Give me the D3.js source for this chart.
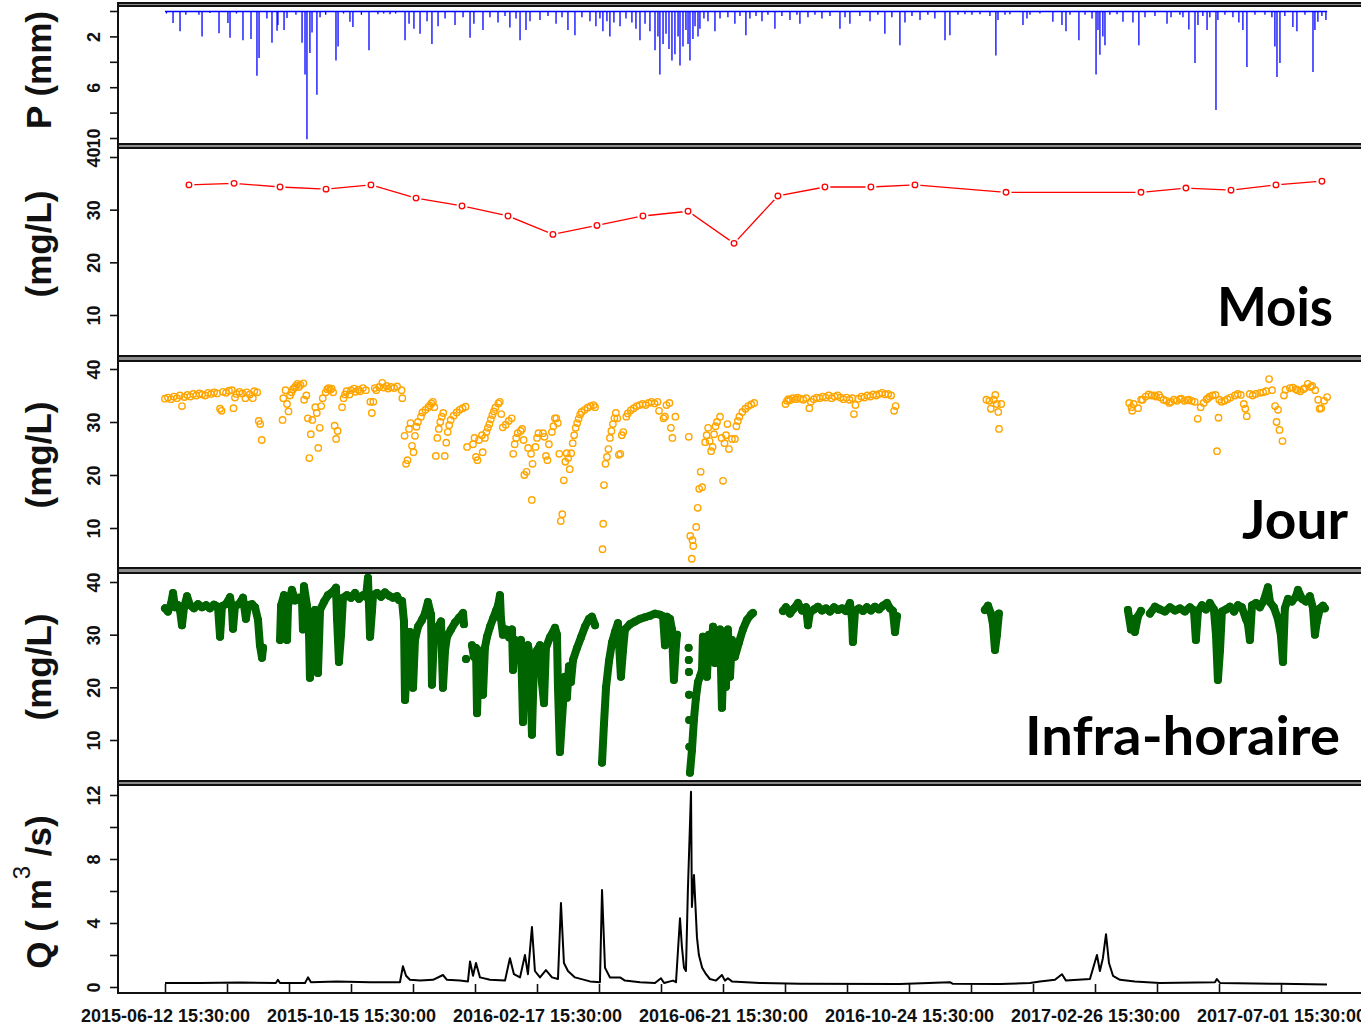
<!DOCTYPE html>
<html><head><meta charset="utf-8">
<script src="https://cdn.jsdelivr.net/npm/d3@7"></script>
<style>body{margin:0;background:#fff}svg{display:block}</style>
</head><body><svg id="c" width="1361" height="1025"></svg>
<script>
// ---------- DATA (time = days after 2015-06-12 15:30:00) ----------
const xTickLabels = ["2015-06-12 15:30:00","2015-10-15 15:30:00","2016-02-17 15:30:00","2016-06-21 15:30:00","2016-10-24 15:30:00","2017-02-26 15:30:00","2017-07-01 15:30:00"];
const pTicks = [0,2,4,6,8,10];
const pTickLabels = ["","2","","6","","10"];
const cTicks = [10,20,30,40];
const cTickLabels = ["10","20","30","40"];
const qTicks = [0,2,4,6,8,10,12];
const qTickLabels = ["0","","4","","8","","12"];
const panelNames = ["Mois","Jour","Infra-horaire"];

const precipitation = [
[1,0.2],[5.4,0.95],[10.1,1.6],[14,0.3],[22.8,0.3],[24.9,2.0],[30.2,0.15],[36.3,1.75],[42.3,0.95],[43.7,2.1],[48,0.2],[52.4,2.3],[57.8,2.2],[61.8,5.1],[63.2,3.7],[68.5,0.6],[71.9,2.5],[75.3,1.55],[75.9,1.1],[80,1.5],[82,0.55],[88,0.3],[92.1,2.5],[94.1,5.0],[95.4,10.1],[97.4,3.3],[98.8,1.7],[102.1,6.6],[104.2,0.5],[108,0.3],[114.9,3.9],[116.3,2.8],[120,0.2],[124.3,0.85],[126.3,1.25],[132,0.3],[137.1,3.1],[143.1,0.25],[147,0.2],[151.2,0.25],[155,0.2],
[161.3,2.3],[164,1.0],[167.3,1.4],[171.4,1.8],[176.1,0.8],[179.4,2.6],[183.5,1.2],[188.2,0.6],[194.9,1.1],[200.3,0.5],[205,2.1],[207.6,1.0],[213.7,1.5],[218.4,0.5],[223.8,0.9],[228.5,0.4],[231.8,1.3],[235.9,0.6],[238.6,2.3],[242.6,1.5],[245.3,0.8],[252,0.7],[257.4,0.4],[262.8,1.0],[266.8,0.5],[270.8,1.5],[275.5,1.9],[280.2,0.5],[285.6,0.8],[289.6,1.2],[292.3,0.6],[294.3,1.6],[297,0.8],[299,2.0],[301.7,0.9],[305.8,1.2],[309.8,0.6],[313.8,0.9],[316.5,1.4],[319.2,2.3],[322.6,1.0],[325.9,1.6],[329.3,3.1],[331.3,2.0],[332.6,5.0],[334.7,2.6],[336.7,1.8],[338.7,3.0],[340.7,3.9],[342.7,3.4],[344.8,2.0],[346.1,4.3],[348.1,2.8],[350.1,1.5],[351.5,2.6],[352.8,3.9],[354.8,2.2],[356.2,1.2],[358.2,2.0],[359.5,1.4],[362.2,0.6],[364.9,0.8],[369.6,1.6],[373,0.6],[378.3,0.5],[383,1.0],[386.4,0.4],[390.4,1.9],[393.1,0.6],[397.2,0.4],[401.2,0.8],[405.2,0.3],[409.9,1.4],[414.6,0.4],[420,0.7],[424.7,0.3],[426.7,1.0],[432.1,0.5],[436.8,0.3],[441.5,0.6],[446.9,0.4],[453.6,1.4],[457,0.5],[460.3,1.0],[467,0.4],[473.8,0.8],[479.1,0.3],[483.8,1.8],[488.5,0.5],[493.9,2.7],[497.3,0.9],[502,0.4],[507.4,0.7],[512.7,0.3],[517.4,0.6],[524.2,2.3],[527.5,1.9],[532.9,0.3],[537.6,0.25],[542.3,0.3],[547.7,0.25],[554.4,0.4],[558.4,3.5],[559.8,0.7],[564.5,0.3],[567.8,0.25],[576.6,1.1],[579.3,0.6],[581.3,0.3],[588,0.2],[596.7,0.85],[602.8,1.1],[605.5,1.6],[608.2,0.3],[614.2,2.3],[618.3,0.3],[623,0.6],[625.7,5.0],[627,1.5],[628.3,3.45],[630.3,2.0],[631.7,2.7],[635,0.3],[639.8,0.25],[643.8,0.85],[650.5,0.9],[654.5,2.7],[658.6,0.5],[665.3,0.4],[673.4,1.0],[676.1,0.5],[682.1,0.3],[684.1,0.5],[688.1,1.45],[692.2,4.1],[694.2,1.1],[697.5,0.4],[700.3,1.5],[702.2,0.5],[706.3,7.8],[707.6,0.7],[712.3,0.3],[717.7,0.5],[721.7,0.9],[724.4,1.5],[727.1,4.4],[732.5,0.3],[739.2,0.3],[743.9,0.5],[745.9,2.8],[747.3,5.2],[749.3,4.1],[752.6,0.4],[758,1.25],[760.7,1.6],[766.1,0.3],[771.5,4.8],[772.8,1.5],[774.8,0.85],[777.5,0.4],[780.2,0.7]
];

const mois = [
[16.1,34.7],[46.4,35.0],[77.3,34.3],[108.2,33.9],[138.4,34.7],[168.7,32.2],[199.6,30.7],[230.5,28.8],[260.7,25.3],[290.3,27.0],[321.2,28.8],[351.5,29.7],[382.4,23.6],[411.9,32.6],[443.5,34.3],[474.4,34.3],[504,34.7],[565.2,33.3],[655.9,33.3],[686.1,34.1],[716.4,33.7],[746.6,34.7],[777.5,35.4]
];

const jour = [
[0,34.4],[2,34.6],[4,34.3],[6,34.8],[8,34.5],[10,35.0],[11.4,33.0],[13,34.7],[15,35.1],[17,34.8],[19,35.3],[21,35.0],[23,35.4],[25,35.2],[27,35.0],[29,35.5],[31,35.3],[33,35.6],[35,35.4],[37,32.5],[38,32.1],[39,35.7],[41,35.5],[43,35.9],[45,36.0],[46,32.6],[47,34.6],[48,35.3],[50,35.7],[52,35.4],[54,34.5],[55,35.6],[57,35.2],[59,34.5],[60,35.8],[62,35.6],[63,30.2],[64,29.6],[65,26.6],
[79,30.4],[79.5,34.5],[81,36.0],[82,33.4],[83,32.0],[84,35.0],[85,35.6],[86,36.2],[87,36.5],[88,36.8],[89,37.2],[90,36.6],[91,37.0],[93,37.3],[93.5,34.2],[95,35.0],[96,30.7],[97,23.2],[98,27.7],[99,30.4],[101,32.8],[102,31.7],[103,25.1],[104,28.9],[105,33.0],[106,34.5],[108,35.6],[109,36.2],[110,36.4],[111,36.1],[112,36.3],[113,35.6],[114,29.3],[115,26.8],[116,28.3],[119,32.8],[120,34.5],[121,35.2],[122,35.8],[124,35.2],[125,36.0],[127,36.3],[128,35.7],[130,36.1],[131,35.8],[133,36.4],[135,36.0],[138,33.8],[139,31.7],[140,33.8],[141,36.4],[142,36.0],[144,36.6],[146,37.4],[147,36.5],[149,36.8],[150,36.3],[152,36.6],[154,36.4],[156,36.7],[159,36.0],[159.5,34.5],
[161,27.4],[162,22.1],[163,22.8],[164,28.7],[165,29.8],[166,25.5],[167,24.3],[168,27.4],[169,29.1],[170,30.0],[172,31.0],[173,31.8],[175,32.3],[177,32.8],[178,33.1],[179,33.5],[180,33.8],[181,32.8],[182,23.6],[183,27.0],[184,28.7],[185,30.0],[186,31.0],[187,31.7],[188,23.6],[189,26.1],[190,28.1],[191,29.4],[192,30.4],[194,31.2],[196,31.8],[198,32.3],[200,32.6],[202,32.9],[203,25.3],[207,25.8],[208,27.0],[209,23.4],[210,22.8],[211,26.6],[213,27.5],[213.5,24.3],[215,27.0],[216,28.1],[217,28.9],[218,29.6],[219,30.5],[220,31.3],[221,32.0],[222,32.7],[224,33.5],[225,33.8],[226,31.5],[227,29.0],[229,29.5],[231,30.2],[233,30.7],[234,24.0],[235,25.8],[236,27.0],[237,27.9],[239,28.3],[240,28.7],[241,26.6],[241.5,20.0],[243,20.6],[244,25.1],[246,24.0],[246.5,15.3],[247,22.1],[249,25.3],[250,27.0],[251,27.9],[254,27.9],[255,27.2],[256,23.6],[257,22.8],[258,25.8],[260,28.1],[261,29.2],[262,30.7],[263,30.7],[264,29.8],[265,24.0],[266,11.3],[267,12.6],[268,19.0],[269,22.5],[270,24.1],[271,23.2],[272,21.1],[273,24.1],[274,26.0],[275,27.5],[276,28.9],[277,29.8],[278,30.6],[279,31.4],[280,31.9],[282,32.3],[284,32.7],[286,33.0],[288,33.2],[289,32.8],
[294,6.0],[294.5,10.8],[295,18.1],[296,22.1],[297,23.4],[298,24.9],[299,27.0],[300,28.3],[301,29.6],[302,30.7],[303,31.7],[304,30.7],[305,23.8],[306,24.0],[307,27.5],[308,28.1],[310,31.0],[311,31.6],[313,32.2],[315,32.6],[317,33.0],[319,33.2],[321,33.4],[323,33.2],[325,33.6],[327,33.8],[329,33.5],[331,33.8],[332,32.1],[335,30.7],[336,31.0],[337,33.2],[339,33.6],[340,28.9],[341,27.0],[343,31.0],
[352,27.2],[353,8.5],[354,4.2],[354.5,7.7],[355,6.6],[357,10.2],[358,13.8],[359,17.4],[360,20.6],[361,17.7],[363,26.2],[364,27.5],[365,28.9],[366,26.4],[367,24.5],[368,25.3],[369,27.7],[370,29.2],[371,30.0],[373,31.0],[374,27.0],[375,18.9],[376,26.0],[377,27.5],[378,29.6],[379,24.9],[381,26.8],[383,26.8],[384,29.2],[385,30.2],[386,31.0],[388,31.9],[390,32.5],[392,33.0],[394,33.3],[396,33.6],
[417,33.4],[418,34.0],[419,34.3],[420,34.1],[422,34.5],[424,34.3],[425,34.6],[427,34.4],[429,34.2],[431,34.5],[433,32.6],[434,33.8],[436,34.3],[438,34.6],[440,34.5],[442,34.8],[444,34.6],[446,35.0],[448,34.5],[450,34.8],[452,35.0],[454,34.6],[456,34.3],[458,34.6],[460,34.2],[462,34.5],[463,31.5],[464,33.2],[466,34.4],[468,34.8],[470,34.6],[472,35.0],[474,34.8],[476,35.2],[478,35.0],[480,35.3],[482,35.5],[484,35.2],[486,35.3],[488,35.0],[490,32.1],[491,33.0],
[552,34.2],[554,34.0],[555,32.5],[557,34.2],[558,35.1],[559,33.4],[560,31.9],[560.5,28.7],[562,33.4],
[648,33.6],[649.5,32.8],[650,32.1],[651,33.4],[654,32.6],[656,34.2],[657,34.2],[659,34.8],[661,35.2],[663,35.0],[665,35.0],[666,34.8],[668,35.1],[669,34.6],[671,34.2],[673,34.0],[675,33.6],[676,33.8],[678,34.2],[680,34.0],[682,34.3],[683,34.4],[685,34.0],[687,34.1],[688,34.2],[690,34.0],[692,33.8],[694,30.6],[696,32.8],[698,33.6],[700,34.3],[701,34.5],[702,34.8],[704,35.0],[706,35.1],[707,24.5],[708,30.8],[708.5,34.2],[710,33.8],[712,34.0],[714,34.3],[716,34.6],[719,35.0],[721,35.3],[723,35.1],[725,33.4],[726,32.5],[727,31.1],[729,35.3],[731,35.0],[733,35.3],[736,35.5],[738,35.6],[740,35.8],[742,38.1],[744,36.0],[746,33.0],[747,30.0],[748,32.3],[749,28.5],[751,26.4],[752,35.0],[753,36.1],[756,36.4],[758,36.5],[760,36.2],[761,36.0],[763,35.8],[765,36.2],[766,36.4],[768,37.2],[770,36.6],[771,36.8],[773,36.0],[775,34.2],[776,32.5],[777,32.6],[779,34.0],[781,34.7]
];

// null = gap in the record
const infraHoraire = [
[0,35.0],[2,34.4],[4,35.8],[5.4,37.9],[6.7,35.2],[8.7,35.6],[10.1,34.6],[11.4,31.8],[12.8,35.2],[14.8,37.3],[16.8,35.6],[19.5,35.0],[22.2,35.8],[24.9,35.2],[27.6,35.6],[30.2,35.0],[32.9,35.7],[35.6,35.3],[37,29.6],[38.3,35.4],[41,35.8],[43.7,37.1],[45,35.0],[45.7,31.1],[47,35.4],[49.7,35.8],[52.4,37.0],[54.4,33.0],[55.8,35.6],[58.5,35.8],[60.5,35.2],[62.5,32.8],[63.8,28.0],[65.2,25.6],[65.9,27.5],
null,
[77.3,29.0],[78,35.5],[80,37.5],[82,29.0],[82.7,35.5],[85.3,38.5],[87.4,36.5],[90,37.0],[92.1,36.2],[92.7,31.0],[93.4,39.2],[95.4,35.5],[96.8,30.0],[97.4,21.8],[98.8,30.5],[100.8,34.7],[102.1,28.0],[102.8,22.7],[104.2,34.7],[106.8,36.2],[109.5,37.5],[112.2,38.0],[114.9,38.9],[115.6,33.0],[116.9,24.8],[118.3,30.0],[119.6,37.0],[122.3,37.5],[125,37.0],[127.7,37.9],[130.4,36.8],[133.1,37.5],[135.1,37.2],[136.4,40.8],[137.1,35.5],[137.8,29.6],[139.1,34.5],[139.8,37.5],[142.5,37.9],[145.2,37.2],[147.8,38.0],[150.5,37.4],[153.2,37.0],[155.9,37.3],[157.2,36.6],
[159.3,36.4],[160.6,32.5],[161.3,17.6],[162.6,24.0],[164,28.0],[164.6,30.5],[166,30.0],[166.7,19.9],[168,29.0],[170,31.5],[172.7,32.8],[174.7,34.0],[176.7,36.2],[178.1,34.5],[178.8,33.8],[179.4,20.5],[180.8,30.0],[182.1,29.5],[183.5,31.5],[185.5,32.5],[186.1,26.5],[186.8,19.9],[188.2,27.0],[189.5,29.6],[192.2,31.0],[194.9,32.3],[197.6,33.2],[200.3,34.1],[200.9,32.0],
null,[202.3,25.4],null,
[206.3,28.0],[207.6,25.8],[209,27.5],[209.7,15.1],[211,27.0],[212.4,26.5],[213.7,18.6],[215,27.5],[216.4,29.6],[218.4,31.5],[220.4,33.0],[222.4,34.5],[223.8,35.5],[225.1,37.5],[225.8,33.0],[227.1,30.0],[229.2,31.0],[231.2,29.5],[233.2,31.0],[233.9,23.3],[235.2,29.0],[237.2,28.0],[239.2,29.0],[240.6,13.4],[241.9,27.0],[243.9,28.0],[245.3,26.0],[246.6,11.0],[248,25.0],[250,27.0],[252,28.0],[253.3,21.0],[254.7,17.0],[256,27.5],[258.7,29.5],[262.1,31.3],[263.4,30.0],[264.1,20.0],[265.4,7.7],[267.5,17.0],[268.8,22.0],[270.1,18.0],[271.5,24.0],[272.8,21.0],[274.2,25.2],[276.9,27.5],[279.6,29.5],[282.2,31.5],[284.9,33.0],[286.9,33.4],[289,31.8],
null,
[293.7,5.7],[295,13.0],[296.4,20.0],[298.4,25.0],[300.4,28.5],[302.4,30.5],[304.4,32.2],[305.1,28.4],[306.4,22.0],[307.8,27.0],[309.1,31.0],[312.5,32.0],[315.8,32.5],[319.2,33.0],[322.6,33.3],[325.9,33.6],[329.3,34.0],[332.6,33.8],[334.7,33.5],[336,28.0],[337.3,33.4],[339.4,33.0],[340.7,31.0],[342,21.4],[343.4,28.0],[344.1,30.0],
null,[351.9,27.5],null,[352,25.2],null,[352.1,22.9],null,[352.2,18.6],null,[352.3,13.8],null,[352.4,8.7],null,
[352.8,3.8],[354.1,8.0],[355.5,14.0],[356.8,18.0],[358.2,21.0],[359.5,22.0],[360.9,23.3],[361.5,29.6],[362.9,26.0],[364.2,22.0],[365.6,30.0],[366.9,27.0],[368.3,31.5],[369.6,24.6],[370.9,30.0],[372.3,26.0],[373,31.0],[374.3,16.1],[375.6,28.0],[377,20.1],[378.3,31.0],[379.7,22.0],[381,29.0],[383,25.8],[385.7,28.5],[388.4,31.0],[391.1,32.8],[393.8,33.8],[395.1,34.1],
null,
[415.3,34.5],[417.3,35.2],[420,34.0],[422.7,35.0],[425.4,36.0],[428.1,34.6],[430.8,35.2],[432.1,31.8],[433.4,34.2],[436.1,34.8],[438.8,35.3],[441.5,34.6],[444.2,35.0],[446.9,34.4],[449.6,35.2],[452.3,34.7],[455,35.0],[457.6,34.5],[460.3,36.0],[461.7,33.0],[462.3,28.6],[463.7,34.5],[466.4,35.0],[469.1,34.5],[471.7,35.2],[474.4,34.6],[477.1,35.3],[479.8,34.8],[482.5,35.5],[485.2,36.0],[487.2,35.0],[489.2,34.5],[490.6,30.5],[491.9,33.5],
null,
[551,34.7],[553.1,35.5],[555.1,34.0],[556.4,32.0],[557.8,27.1],[559.1,30.0],[560.4,34.0],
null,
[647.1,34.7],[649.2,31.0],[650.5,33.0],[651.8,30.5],[653.9,33.5],[655.9,34.5],
null,
[661.9,34.0],[665.3,35.3],[668.6,34.8],[672,34.4],[675.4,35.2],[678.7,34.6],[682.1,35.0],[685.4,34.4],[688.8,35.2],[691.5,34.6],[692.8,29.0],[694.2,34.5],[696.9,35.6],[699.6,34.8],[702.2,36.0],[704.9,34.8],[706.3,30.0],[707.6,21.4],[709,27.0],[710.3,34.4],[713,34.8],[715.7,35.3],[718.4,34.4],[721.1,35.6],[723.7,35.2],[726.4,33.0],[727.8,32.0],[729.1,29.0],[730.5,35.6],[733.2,36.0],[735.8,35.2],[738.5,36.5],[741.2,39.0],[742.6,36.2],[745.2,35.2],[747.9,33.0],[749.9,30.0],[751.3,24.8],[752.6,35.0],[754.7,36.8],[757.3,36.3],[760,37.2],[761.4,38.5],[764.1,36.8],[766.8,36.3],[769.4,37.3],[771.5,35.0],[772.8,30.0],[774.1,32.5],[776.2,35.0],[778.2,35.5],[779.5,35.0]
];

const discharge = [
[0,0.25],[23.5,0.25],[50.4,0.28],[74.5,0.25],[75.9,0.45],[77.3,0.25],[94.1,0.25],[96.1,0.6],[98.1,0.3],[115.6,0.35],[137.8,0.3],[157.9,0.3],[159.9,1.3],[162,0.7],[164.6,0.45],[171.4,0.4],[180.1,0.45],[186.8,0.75],[189.5,0.45],[198.2,0.4],[203.6,0.35],[205,1.6],[207,0.7],[209,1.5],[211.7,0.6],[218.4,0.45],[228.5,0.4],[231.8,1.8],[234.5,0.8],[238.6,0.6],[241.9,2.0],[243.9,0.8],[246.6,3.75],[248.6,1.0],[252,0.6],[256,1.06],[260.1,0.6],[264.1,0.5],[266.1,5.25],[268.1,1.5],[270.8,1.0],[275.5,0.6],[285.6,0.35],[292.3,0.3],[293.7,6.06],[295.7,1.2],[299,0.6],[305.8,0.6],[309.1,0.4],[319.2,0.3],[329.3,0.25],[333.3,0.55],[335.4,0.25],[341.4,0.4],[343.4,0.3],[346.1,4.3],[347.4,2.5],[348.8,1.2],[350.1,1.0],[351.4,6.06],[353.5,12.2],[354.1,5.0],[355.5,7.0],[357.5,3.1],[358.8,2.0],[361,1.2],[363.6,0.8],[366.2,0.5],[370.3,0.4],[374.3,0.75],[376.3,0.4],[378.3,0.55],[381,0.35],[399.8,0.25],[426.7,0.2],[493.9,0.18],[527.5,0.3],[529.5,0.2],[561.1,0.18],[581.3,0.25],[588,0.35],[598.1,0.45],[602.8,0.8],[605.5,0.4],[621.6,0.5],[626.3,2.0],[628.3,1.0],[630.3,1.8],[632.4,3.3],[634.4,1.5],[637.1,0.7],[641.8,0.45],[651.8,0.35],[668.6,0.25],[705.6,0.3],[706.9,0.5],[709,0.25],[749.3,0.2],[780.9,0.15]
];

// ---------- DRAWING ----------
const svg = d3.select("#c");
svg.append("rect").attr("width",1361).attr("height",1025).attr("fill","#fff");
const parse = d3.utcParse("%Y-%m-%d %H:%M:%S");
const t0 = parse(xTickLabels[0]);
const toDate = d => new Date(t0.getTime() + d*864e5);
const x = d3.scaleUtc().domain([t0, parse(xTickLabels[xTickLabels.length-1])]).range([165,1281]);

const L = 118, R = 1364;
const yP = d3.scaleLinear().domain([0,10]).range([11,138]);
const yMois = d3.scaleLinear().domain([10,40]).range([315,157]);
const yJour = d3.scaleLinear().domain([10,40]).range([528,369]);
const yInfra = d3.scaleLinear().domain([10,40]).range([740,582]);
const yQ = d3.scaleLinear().domain([0,12]).range([987,795]);

const AX = "Liberation Sans, Arial, sans-serif";

// precipitation
const gP = svg.append("g");
gP.append("line").attr("x1",x(toDate(0))).attr("x2",x(toDate(781))).attr("y1",yP(0)+0.5).attr("y2",yP(0)+0.5)
  .attr("stroke","#0000ff").attr("stroke-width",1.6);
gP.selectAll("line.bar").data(precipitation).join("line").attr("class","bar")
  .attr("x1",d=>x(toDate(d[0]))).attr("x2",d=>x(toDate(d[0])))
  .attr("y1",yP(0)).attr("y2",d=>yP(d[1]))
  .attr("stroke","#0000ff").attr("stroke-width",1.3);

// monthly
const lineM = d3.line().x(d=>x(toDate(d[0]))).y(d=>yMois(d[1]));
svg.append("path").attr("d",lineM(mois)).attr("fill","none").attr("stroke","#ff0000").attr("stroke-width",1.3);
svg.selectAll("circle.mw").data(mois).join("circle").attr("class","mw")
  .attr("cx",d=>x(toDate(d[0]))).attr("cy",d=>yMois(d[1])).attr("r",5.5).attr("fill","#fff");
svg.selectAll("circle.m").data(mois).join("circle").attr("class","m")
  .attr("cx",d=>x(toDate(d[0]))).attr("cy",d=>yMois(d[1])).attr("r",2.8)
  .attr("fill","none").attr("stroke","#ff0000").attr("stroke-width",1.3);

// daily
svg.selectAll("circle.j").data(jour).join("circle").attr("class","j")
  .attr("cx",d=>x(toDate(d[0]))).attr("cy",d=>yJour(d[1])).attr("r",3.2)
  .attr("fill","none").attr("stroke","#ffa500").attr("stroke-width",1.4);

// infra-hourly
const lineI = d3.line().defined(d=>d!==null).x(d=>x(toDate(d[0]))).y(d=>yInfra(d[1]));
svg.append("path").attr("d",lineI(infraHoraire)).attr("fill","none").attr("stroke","#006400")
  .attr("stroke-width",8).attr("stroke-linejoin","round").attr("stroke-linecap","round");
svg.selectAll("circle.i").data(infraHoraire.filter(d=>d!==null)).join("circle").attr("class","i")
  .attr("cx",d=>x(toDate(d[0]))).attr("cy",d=>yInfra(d[1])).attr("r",3.2)
  .attr("fill","none").attr("stroke","#006400").attr("stroke-width",1.5);

// discharge
const lineQ = d3.line().x(d=>x(toDate(d[0]))).y(d=>yQ(d[1]));
svg.append("path").attr("d",lineQ(discharge)).attr("fill","none").attr("stroke","#000").attr("stroke-width",2).attr("stroke-linejoin","round");

// frames
const bands = [[3,6],[144,148],[356,361],[568,573],[781,785]];
bands.forEach(b=>{
  svg.append("rect").attr("x",L).attr("y",b[0]).attr("width",R-L).attr("height",b[1]-b[0]).attr("fill","#8c8c8c");
  [b[0],b[1]].forEach(yy=>svg.append("line").attr("x1",L).attr("x2",R).attr("y1",yy).attr("y2",yy).attr("stroke","#111").attr("stroke-width",2));
});
svg.append("line").attr("x1",L).attr("x2",R).attr("y1",993).attr("y2",993).attr("stroke","#111").attr("stroke-width",2);
svg.append("line").attr("x1",L).attr("x2",L).attr("y1",2).attr("y2",994).attr("stroke","#111").attr("stroke-width",2);

// y axes
function yAxis(scale, vals, labels){
  const g = svg.append("g").attr("transform",`translate(${L},0)`)
    .call(d3.axisLeft(scale).tickValues(vals).tickFormat((d,i)=>labels[i]).tickSize(8));
  g.select(".domain").remove();
  g.selectAll(".tick line").attr("stroke","#111").attr("stroke-width",1.6);
  g.selectAll(".tick text").attr("x",null).attr("dy",null).attr("text-anchor","middle")
    .attr("transform","translate(-18,0) rotate(-90)")
    .attr("font-family",AX).attr("font-weight","bold").attr("font-size",18).attr("fill","#111");
}
yAxis(yP,pTicks,pTickLabels);
yAxis(yMois,cTicks,cTickLabels);
yAxis(yJour,cTicks,cTickLabels);
yAxis(yInfra,cTicks,cTickLabels);
yAxis(yQ,qTicks,qTickLabels);

// x axis (ticks every 1000 h, labels every 3000 h)
const xTickDates = d3.range(0,19).map(k=>new Date(t0.getTime()+k*1000*3600e3));
const gx = svg.append("g").attr("transform","translate(0,993)")
  .call(d3.axisBottom(x).tickValues(xTickDates).tickSizeInner(-9).tickSizeOuter(0).tickPadding(16)
    .tickFormat((d,i)=> i%3===0 ? xTickLabels[i/3] : ""));
gx.select(".domain").remove();
gx.selectAll(".tick line").attr("stroke","#111").attr("stroke-width",1.6);
gx.selectAll(".tick text").attr("font-family",AX).attr("font-weight","bold").attr("font-size",18).attr("fill","#111");

// axis titles
function yTitle(cy, txt){
  return svg.append("text").attr("transform",`translate(51,${cy}) rotate(-90)`).attr("text-anchor","middle")
    .attr("font-family",AX).attr("font-weight","bold").attr("font-size",35).attr("fill","#111").text(txt);
}
yTitle(70,"P (mm)");
yTitle(244,"(mg/L)");
yTitle(455,"(mg/L)");
yTitle(667,"(mg/L)");
const qt = svg.append("text").attr("transform","translate(51,892) rotate(-90)").attr("text-anchor","middle")
  .attr("font-family",AX).attr("font-weight","bold").attr("font-size",35).attr("fill","#111");
qt.append("tspan").text("Q ( m");
qt.append("tspan").attr("dy",-21).attr("font-size",24).attr("font-weight","normal").text("3");
qt.append("tspan").attr("dy",21).text(" /s)");

// panel names
const nameSpecs = [[1217,326,116],[1242,539,106],[1025,755,315]];
panelNames.forEach((n,i)=>{
  svg.append("text").attr("x",nameSpecs[i][0]).attr("y",nameSpecs[i][1])
    .attr("textLength",nameSpecs[i][2]).attr("lengthAdjust","spacingAndGlyphs")
    .attr("font-family","Lato, 'Open Sans', sans-serif").attr("font-weight","bold").attr("font-size",54)
    .attr("fill","#000").text(n);
});
</script></body></html>
